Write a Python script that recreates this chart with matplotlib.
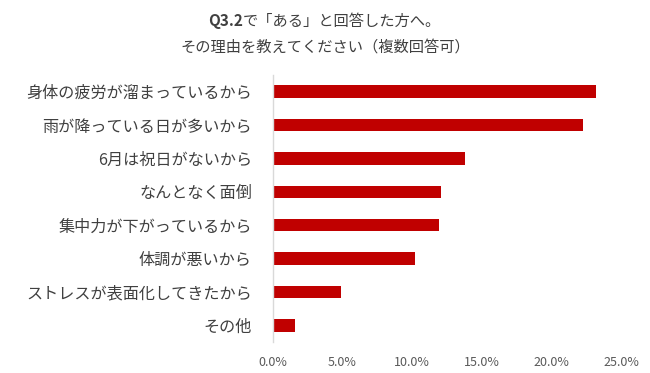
import matplotlib
matplotlib.use("Agg")
import matplotlib.pyplot as plt
from matplotlib.ticker import MultipleLocator, FuncFormatter

plt.rcParams["font.family"] = ["Noto Sans CJK JP", "DejaVu Sans"]

reasons = [
    "身体の疲労が溜まっているから",
    "雨が降っている日が多いから",
    "6月は祝日がないから",
    "なんとなく面倒",
    "集中力が下がっているから",
    "体調が悪いから",
    "ストレスが表面化してきたから",
    "その他",
]
shares = [23.2, 22.3, 13.8, 12.1, 11.9, 10.2, 4.9, 1.6]

title_q = "Q3.2"
title_1 = "で「ある」と回答した方へ。"
title_2 = "その理由を教えてください（複数回答可）"

fig = plt.figure(figsize=(6.5, 3.73), dpi=100)
ax = fig.add_axes([0.4195, 0.083, 0.536, 0.716])

ypos = list(range(len(reasons)))
ax.barh(ypos, shares, height=0.37, color="#C00000")
ax.set_ylim(len(reasons) - 0.5, -0.5)
ax.set_xlim(0, 25)

ax.set_yticks(ypos)
ax.set_yticklabels(reasons, fontsize=11.6, color="#404040")
ax.xaxis.set_major_locator(MultipleLocator(5))
ax.xaxis.set_major_formatter(FuncFormatter(lambda v, p: f"{v:.1f}%"))
ax.tick_params(axis="x", labelsize=9, labelcolor="#595959", length=0, pad=10)
ax.tick_params(axis="y", length=0, pad=15)

for side in ["top", "right", "bottom"]:
    ax.spines[side].set_visible(False)
ax.spines["left"].set_color("#D9D9D9")
ax.spines["left"].set_linewidth(1.0)

# first title line: bold "Q3.2" + regular rest, centred together
fig.canvas.draw()
r = fig.canvas.get_renderer()
tq = fig.text(0, 1 - 21 / 373, title_q, ha="left", va="center",
              fontsize=11, color="#404040", fontweight="bold")
t1 = fig.text(0, 1 - 21 / 373, title_1, ha="left", va="center",
              fontsize=11, color="#404040")
wq = tq.get_window_extent(r).width / fig.bbox.width
w1 = t1.get_window_extent(r).width / fig.bbox.width
x0 = 0.5 - (wq + w1) / 2
tq.set_x(x0)
t1.set_x(x0 + wq)

fig.text(0.5, 1 - 47 / 373, title_2, ha="center", va="center",
         fontsize=11, color="#404040")

fig.savefig("out.png", dpi=100)
